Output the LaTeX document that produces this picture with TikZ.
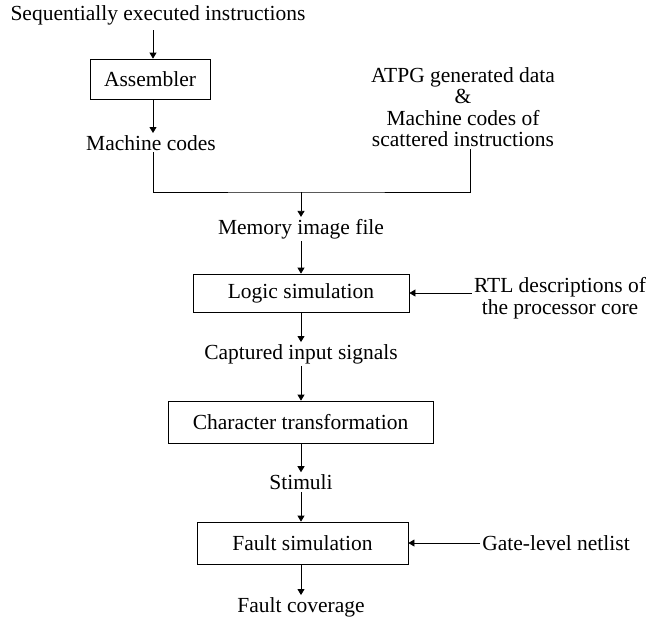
\documentclass[tikz,border=0pt]{standalone}
\usepackage{fontspec}
\setmainfont{Liberation Serif}
\usetikzlibrary{arrows.meta}
\begin{document}
\begin{tikzpicture}[x=1pt,y=-1pt,
  txt/.style={inner sep=2pt, font=\fontsize{21.5}{21.5}\selectfont, align=center},
  box/.style={draw, line width=0.8pt, inner sep=0pt, font=\fontsize{21.5}{21.5}\selectfont},
  arr/.style={line width=0.8pt, -{Triangle[length=6pt,width=7pt]}},
  ln/.style={line width=0.8pt}]
\useasboundingbox (0,0) rectangle (650,625);
\node[txt] (seq) at (158,15) {Sequentially executed instructions};
\node[box, minimum width=120pt, minimum height=40pt] (asm) at (150,79) {Assembler};
\node[txt] (mc) at (151,143) {Machine codes};
\node[txt] (atpg) at (463,107) {ATPG generated data\\\&\\Machine codes of\\scattered instructions};
\coordinate (merge) at (301,192);
\node[txt] (mem) at (301,229) {Memory image file};
\node[box, minimum width=216pt, minimum height=38pt] (logic) at (301,293) {Logic simulation};
\node[txt] (rtl) at (560,298) {RTL descriptions of\\the processor core};
\node[txt] (cap) at (301,354) {Captured input signals};
\node[box, minimum width=265pt, minimum height=42pt] (char) at (300.5,422) {Character transformation};
\node[txt] (stim) at (301,482) {Stimuli};
\node[box, minimum width=211pt, minimum height=42pt] (fault) at (302.5,543) {Fault simulation};
\node[txt] (gate) at (556,543) {Gate-level netlist};
\node[txt] (cov) at (301,607) {Fault coverage};

\draw[arr] (153,30) -- (asm.north -| 153,0);
\draw[arr] (asm.south -| 153,0) -- (153,133);
\draw[ln] (153,152) |- (merge) -| (470,149);
\draw[arr] (merge) -- (mem.north);
\draw[arr] (mem.south) -- (logic.north -| mem);
\draw[arr] (rtl.west |- logic) -- (logic.east);
\draw[arr] (logic.south -| cap) -- (cap.north);
\draw[arr] (cap.south) -- (char.north -| cap);
\draw[arr] (char.south -| stim) -- (stim.north);
\draw[arr] (stim.south) -- (fault.north -| stim);
\draw[arr] (gate.west) -- (fault.east);
\draw[arr] (fault.south -| cov) -- (cov.north);
\end{tikzpicture}
\end{document}
